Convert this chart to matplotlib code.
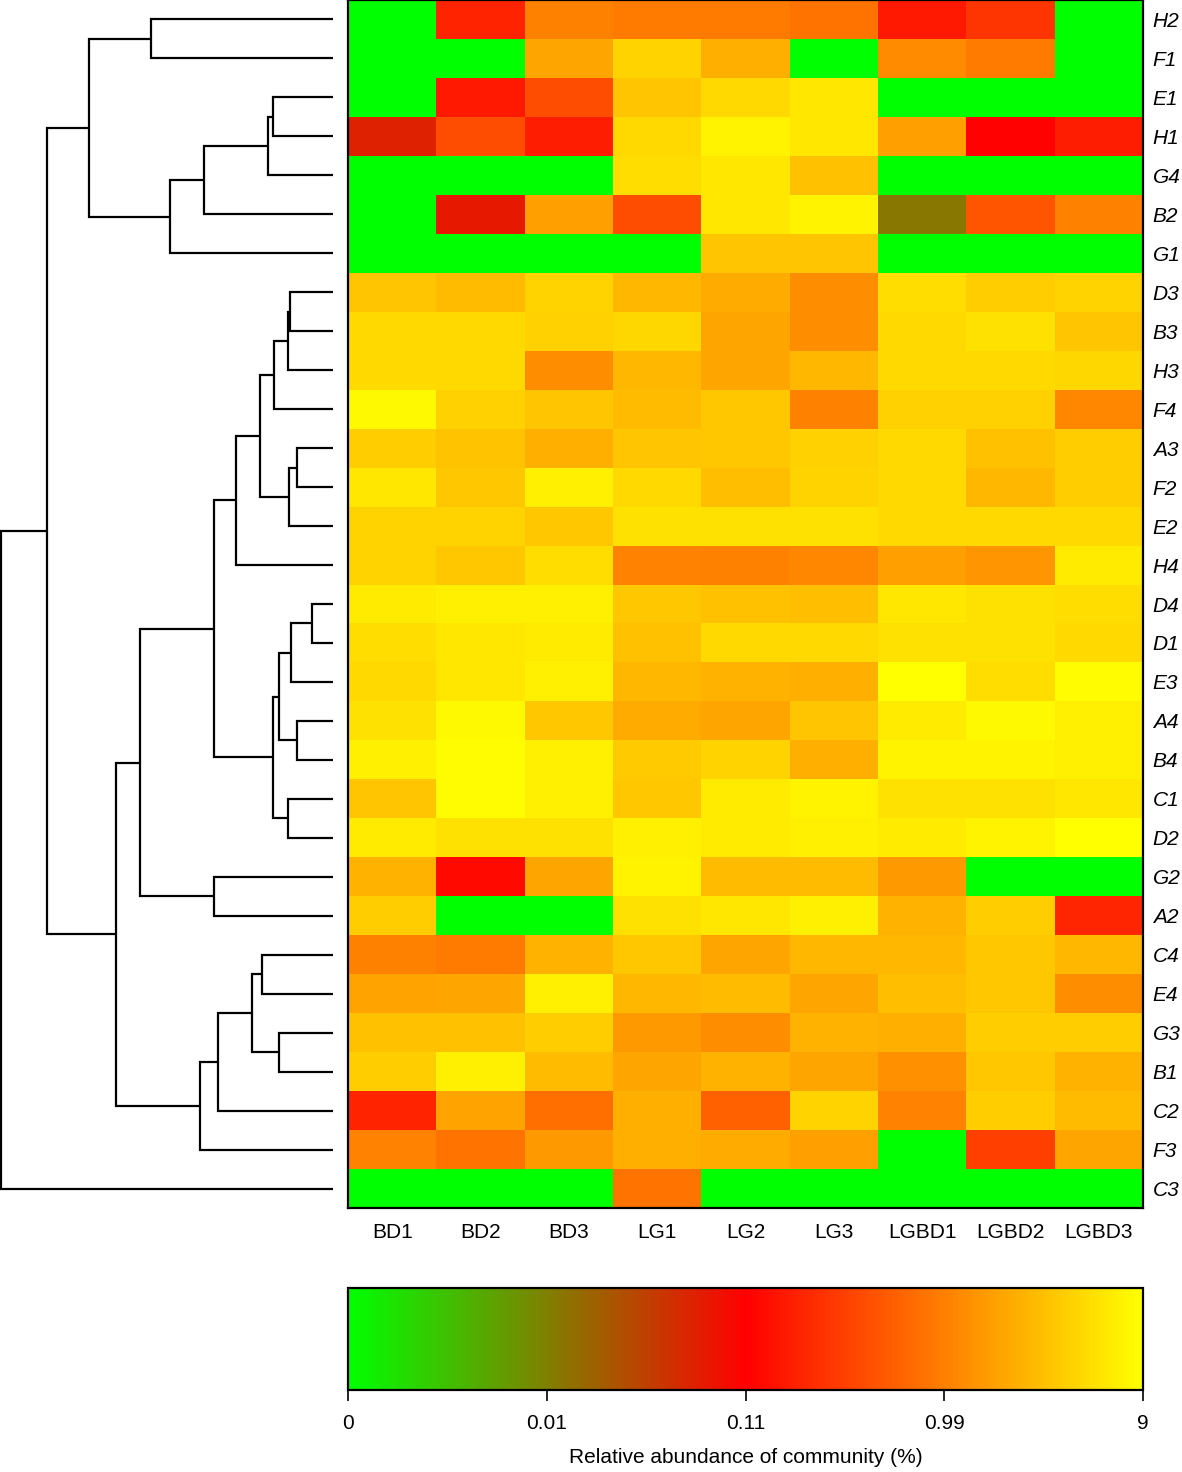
import numpy as np
import matplotlib
matplotlib.use("Agg")
import matplotlib.pyplot as plt
from matplotlib.colors import LinearSegmentedColormap, FuncNorm

plt.rcParams['font.family'] = ['Liberation Sans', 'DejaVu Sans']

# samples (columns) and OTUs (rows, top to bottom as in the dendrogram)
samples = ["BD1", "BD2", "BD3", "LG1", "LG2", "LG3", "LGBD1", "LGBD2", "LGBD3"]
rows = ["H2", "F1", "E1", "H1", "G4", "B2", "G1",
        "D3", "B3", "H3", "F4", "A3", "F2", "E2", "H4",
        "D4", "D1", "E3", "A4", "B4", "C1", "D2",
        "G2", "A2", "C4", "E4", "G3", "B1", "C2", "F3", "C3"]

# relative abundance (%) per row, in sample order
abund = {
    "H2": [0, 0.20, 0.99, 0.90, 0.90, 0.80, 0.17, 0.27, 0],
    "F1": [0, 0, 1.9, 4.2, 2.2, 0, 1.2, 0.92, 0],
    "E1": [0, 0.17, 0.41, 3.2, 4.6, 5.8, 0, 0, 0],
    "H1": [0.06, 0.41, 0.18, 4.6, 7.2, 5.8, 1.7, 0.11, 0.18],
    "G4": [0, 0, 0, 5.0, 5.8, 3.0, 0, 0, 0],
    "B2": [0, 0.069, 1.7, 0.41, 5.8, 7.2, 0.012, 0.47, 0.99],
    "G1": [0, 0, 0, 0, 3.2, 3.2, 0, 0, 0],
    "D3": [3.2, 2.7, 4.2, 2.6, 2.1, 1.23, 5.0, 3.7, 4.2],
    "B3": [4.6, 4.6, 4.0, 4.4, 1.9, 1.23, 4.6, 5.3, 3.2],
    "H3": [4.6, 4.6, 1.23, 2.6, 1.9, 2.6, 4.6, 4.6, 4.4],
    "F4": [7.9, 4.0, 3.2, 2.7, 3.4, 0.99, 4.0, 4.0, 1.1],
    "A3": [3.7, 3.1, 2.2, 3.2, 3.4, 4.0, 4.6, 3.0, 3.7],
    "F2": [5.8, 3.4, 6.6, 4.6, 2.9, 4.2, 4.6, 2.6, 3.7],
    "E2": [4.2, 4.2, 3.4, 5.3, 5.3, 5.3, 4.6, 4.6, 4.6],
    "H4": [4.2, 3.4, 5.0, 1.05, 0.99, 1.1, 1.7, 1.4, 6.3],
    "D4": [6.3, 6.6, 6.6, 3.4, 3.0, 2.9, 5.8, 5.3, 5.0],
    "D1": [5.0, 5.8, 6.3, 3.0, 4.6, 4.6, 5.3, 5.3, 4.6],
    "E3": [4.6, 5.8, 6.6, 2.6, 2.4, 2.2, 9.0, 5.0, 8.4],
    "A4": [5.3, 7.9, 3.4, 2.1, 1.9, 3.2, 6.3, 7.9, 6.6],
    "B4": [6.6, 8.4, 6.6, 3.6, 4.2, 2.2, 7.2, 7.2, 6.6],
    "C1": [3.2, 8.4, 6.6, 3.4, 6.3, 7.2, 5.3, 5.3, 5.8],
    "D2": [6.3, 5.3, 5.3, 6.6, 6.3, 6.6, 6.3, 7.2, 9.0],
    "G2": [2.4, 0.13, 1.9, 7.2, 2.7, 2.7, 1.5, 0, 0],
    "A2": [3.7, 0, 0, 5.3, 5.8, 6.6, 2.4, 3.7, 0.21],
    "C4": [0.99, 0.92, 2.4, 3.4, 1.9, 2.6, 2.6, 3.4, 2.6],
    "E4": [1.8, 1.9, 6.6, 2.6, 2.7, 1.9, 2.9, 3.4, 1.23],
    "G3": [3.0, 3.0, 3.7, 1.5, 1.23, 2.4, 2.2, 3.7, 3.7],
    "B1": [3.7, 6.6, 2.7, 1.9, 2.4, 1.9, 1.35, 3.4, 2.4],
    "C2": [0.20, 1.8, 0.73, 2.2, 0.58, 4.2, 1.05, 3.7, 2.7],
    "F3": [1.05, 0.80, 1.5, 2.2, 2.1, 1.7, 0, 0.33, 1.9],
    "C3": [0, 0, 0, 0.80, 0, 0, 0, 0, 0],
}

# row clustering: (left, right, height), clusters named n0, n1, ... in order
links = [
    ("H2", "F1", 0.55),
    ("E1", "H1", 0.18),
    ("n1", "G4", 0.195),
    ("n2", "B2", 0.39),
    ("n3", "G1", 0.49),
    ("n0", "n4", 0.735),
    ("D3", "B3", 0.13),
    ("n6", "H3", 0.137),
    ("n7", "F4", 0.177),
    ("A3", "F2", 0.108),
    ("n9", "E2", 0.132),
    ("n8", "n10", 0.219),
    ("n11", "H4", 0.291),
    ("D4", "D1", 0.063),
    ("n13", "E3", 0.126),
    ("A4", "B4", 0.108),
    ("n14", "n15", 0.162),
    ("C1", "D2", 0.135),
    ("n16", "n17", 0.18),
    ("n12", "n18", 0.36),
    ("G2", "A2", 0.36),
    ("n19", "n20", 0.583),
    ("C4", "E4", 0.213),
    ("G3", "B1", 0.162),
    ("n22", "n23", 0.243),
    ("n24", "C2", 0.348),
    ("n25", "F3", 0.402),
    ("n21", "n26", 0.655),
    ("n5", "n27", 0.862),
    ("n28", "C3", 1.0),
]

cbar_ticks = [0, 0.01, 0.11, 0.99, 9]

data = np.array([abund[r] for r in rows])

# colour scale: piecewise log, tick values sit at equal steps
anch = np.log10(np.array(cbar_ticks) + 0.001)
steps = np.linspace(0, 1, len(cbar_ticks))


def fwd(x):
    return np.interp(np.log10(np.asarray(x, dtype=float) + 0.001), anch, steps)


def inv(p):
    return 10 ** np.interp(np.asarray(p, dtype=float), steps, anch) - 0.001


norm = FuncNorm((fwd, inv), vmin=0, vmax=9)
cmap = LinearSegmentedColormap.from_list("gry", ["#00ff00", "#ff0000", "#ffff00"], N=256)

W, H = 1182, 1472
fig = plt.figure(figsize=(W / 100, H / 100), dpi=100)

hm_left, hm_right = 348 / W, 1143 / W
hm_bottom = 1 - 1208 / H
ax = fig.add_axes([hm_left, hm_bottom, hm_right - hm_left, 1 - hm_bottom])
dax = fig.add_axes([0, hm_bottom, 333 / W, 1 - hm_bottom])
cax = fig.add_axes([hm_left, 1 - 1390 / H, hm_right - hm_left, 102 / H])

# heatmap
mesh = ax.pcolormesh(np.arange(len(samples) + 1) - 0.5, np.arange(len(rows) + 1) - 0.5,
                     data, cmap=cmap, norm=norm)
ax.set_xlim(-0.5, len(samples) - 0.5)
ax.set_ylim(len(rows) - 0.5, -0.5)
ax.set_xticks(range(len(samples)))
ax.set_xticklabels(samples, fontsize=15)
ax.set_yticks(range(len(rows)))
ax.set_yticklabels(rows, fontsize=15, style='italic')
ax.yaxis.tick_right()
ax.tick_params(length=0)
ax.tick_params(axis='x', pad=11)
ax.tick_params(axis='y', pad=7)
for s in ax.spines.values():
    s.set_linewidth(1.6)

# dendrogram
pos = {r: (0.0, i) for i, r in enumerate(rows)}
for k, (a, b, h) in enumerate(links):
    ha, ya = pos[a]
    hb, yb = pos[b]
    dax.plot([ha, h, h, hb], [ya, ya, yb, yb], color='black', lw=1.6,
             solid_joinstyle='miter', solid_capstyle='butt')
    pos["n%d" % k] = (h, (ya + yb) / 2)
dax.set_xlim(1.004, 0)
dax.set_ylim(len(rows) - 0.5, -0.5)
dax.axis('off')

# colour key
cb = fig.colorbar(mesh, cax=cax, orientation='horizontal', ticks=cbar_ticks)
cb.ax.set_xticklabels([str(t) for t in cbar_ticks], fontsize=15)
cb.ax.tick_params(length=8, width=1.2, pad=9)
cb.outline.set_linewidth(1.6)
cb.set_label("Relative abundance of community (%)", fontsize=15, labelpad=11)

fig.savefig("out.png", dpi=100)
